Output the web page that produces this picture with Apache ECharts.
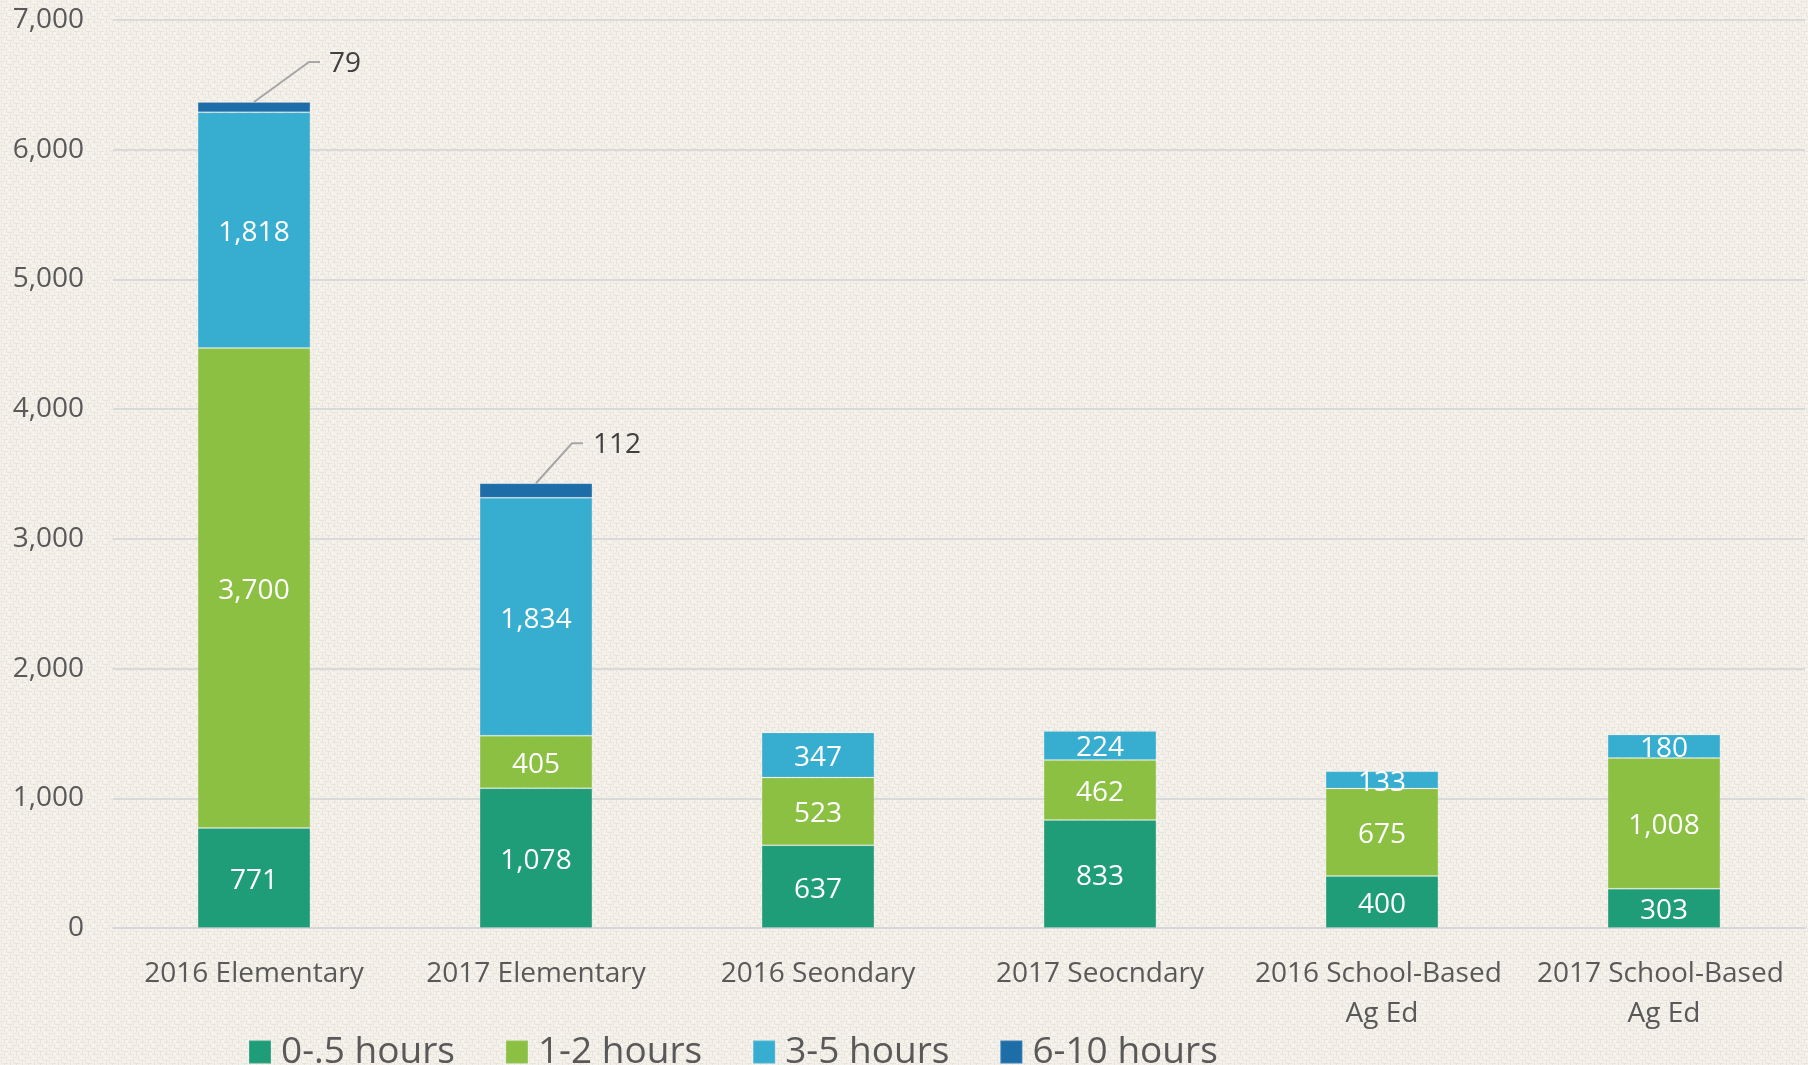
<!DOCTYPE html>
<html>
<head>
<meta charset="utf-8">
<script src="https://cdn.jsdelivr.net/npm/echarts@6/dist/echarts.min.js"></script>
<style>
html,body{margin:0;padding:0;background:#f2eee8;}
#chart{width:1808px;height:1065px;}
</style>
</head>
<body>
<div id="chart"></div>
<script>
// ---- data ----
const categories = ['2016 Elementary', '2017 Elementary', '2016 Seondary', '2017 Seocndary', '2016 School-Based Ag Ed', '2017 School-Based Ag Ed'];
const seriesNames = ['0-.5 hours', '1-2 hours', '3-5 hours', '6-10 hours'];
const hours0to05 = [771, 1078, 637, 833, 400, 303];
const hours1to2 = [3700, 405, 523, 462, 675, 1008];
const hours3to5 = [1818, 1834, 347, 224, 133, 180];
const hours6to10 = [79, 112, null, null, null, null];
const yMin = 0, yMax = 7000, yStep = 1000;

// ---- style ----
const colors = ['#1f9c78', '#8cc043', '#37aed0', '#1d6ea8'];
const font = '"Open Sans", "Noto Sans", sans-serif';
const calloutOffsets = [{ ex: 55, lx: 75 }, { ex: 36, lx: 57 }];

// linen-like background tile (fixed weave pattern)
function makeLinen() {
  const c = document.createElement('canvas');
  c.width = 12; c.height = 12;
  const g = c.getContext('2d');
  g.fillStyle = '#f4f1eb';
  g.fillRect(0, 0, 12, 12);
  g.fillStyle = '#e9e4db';
  g.fillRect(0, 1, 5, 1); g.fillRect(7, 4, 5, 1); g.fillRect(2, 7, 6, 1); g.fillRect(8, 10, 4, 1); g.fillRect(0, 10, 2, 1);
  g.fillRect(6, 0, 1, 4); g.fillRect(1, 3, 1, 4); g.fillRect(10, 6, 1, 4); g.fillRect(4, 8, 1, 4);
  g.fillStyle = '#f8f6f1';
  g.fillRect(8, 1, 3, 1); g.fillRect(2, 5, 1, 1); g.fillRect(6, 9, 2, 1);
  return c;
}

const fmt = v => (v == null ? '' : Number(v).toLocaleString('en-US'));
const allSeries = [hours0to05, hours1to2, hours3to5, hours6to10];

const chart = echarts.init(document.getElementById('chart'), null, { renderer: 'canvas' });

const series = allSeries.map((arr, i) => ({
  name: seriesNames[i],
  type: 'bar',
  stack: 'total',
  barWidth: '40%',
  data: arr,
  itemStyle: { color: colors[i], borderColor: 'rgba(255,255,255,0.12)', borderWidth: 1 },
  label: {
    show: i < 3,
    position: 'inside',
    offset: [0, 3],
    color: '#ffffff',
    fontFamily: font,
    fontSize: 28,
    formatter: p => fmt(p.value)
  },
  emphasis: { disabled: true }
}));

chart.setOption({
  backgroundColor: { image: makeLinen(), repeat: 'repeat' },
  animation: false,
  grid: { left: 113, right: 3, top: 20, bottom: 137, containLabel: false },
  legend: {
    data: seriesNames,
    left: 248,
    top: 1032,
    padding: 0,
    itemGap: 50,
    itemWidth: 22,
    itemHeight: 23,
    icon: 'rect',
    textStyle: { fontFamily: font, fontSize: 37, color: '#595959', lineHeight: 40, padding: [0, 0, 0, 5] }
  },
  xAxis: {
    type: 'category',
    data: categories,
    axisTick: { show: false },
    axisLine: { lineStyle: { color: '#d6d6d6', width: 2 } },
    axisLabel: {
      interval: 0,
      margin: 26,
      color: '#595959',
      fontFamily: font,
      fontSize: 28,
      lineHeight: 40,
      width: 258,
      overflow: 'break'
    }
  },
  yAxis: {
    type: 'value',
    min: yMin,
    max: yMax,
    interval: yStep,
    axisLine: { show: false },
    axisTick: { show: false },
    splitLine: { lineStyle: { color: '#d9d9d9', width: 2 } },
    axisLabel: { color: '#595959', fontFamily: font, fontSize: 28, margin: 29, formatter: v => fmt(v) }
  },
  series: series
});

// callouts for the 6-10 hours values
const graphics = [];
let k = 0;
hours6to10.forEach((v, idx) => {
  if (v == null) return;
  const total = allSeries.reduce((s, arr) => s + (arr[idx] || 0), 0);
  const p = chart.convertToPixel({ gridIndex: 0 }, [idx, total]);
  const off = calloutOffsets[k++] || { ex: 45, lx: 65 };
  const ey = p[1] - 40;
  graphics.push({
    type: 'polyline',
    shape: { points: [[p[0], p[1]], [p[0] + off.ex, ey], [p[0] + off.ex + 11, ey]] },
    style: { stroke: '#a6a6a6', lineWidth: 2, fill: null },
    z: 10
  });
  graphics.push({
    type: 'text',
    x: p[0] + off.lx,
    y: ey + 2,
    style: { text: fmt(v), fill: '#404040', font: '28px ' + font, textAlign: 'left', textVerticalAlign: 'middle' },
    z: 10
  });
});
chart.setOption({ graphic: graphics });
</script>
</body>
</html>
